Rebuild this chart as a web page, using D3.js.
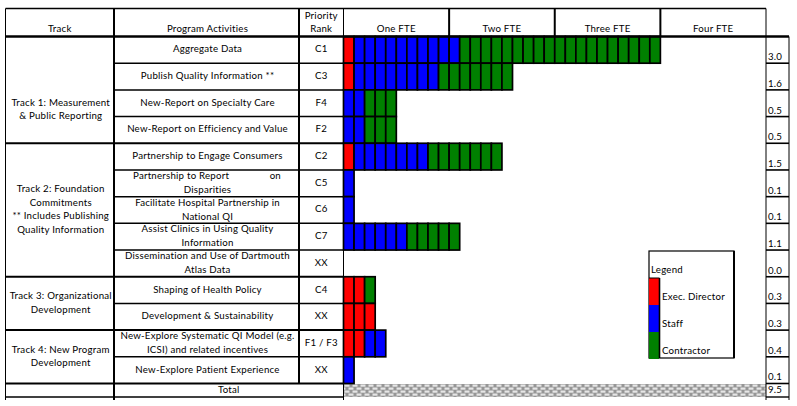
<!DOCTYPE html>
<html>
<head>
<meta charset="utf-8">
<script src="https://cdn.jsdelivr.net/npm/d3@7"></script>
<style>
  html, body { margin: 0; padding: 0; background: #fff; }
  svg { display: block; }
  text { font-family: Lato, "Liberation Sans", sans-serif; fill: #000; letter-spacing: 0.22px; }
</style>
</head>
<body>
<svg id="chart" width="797" height="406"></svg>
<script>
// ---------------- DATA ----------------
const tracks = [
  ["Track 1: Measurement", "& Public Reporting"],
  ["Track 2: Foundation", "Commitments", "** Includes Publishing", "Quality Information"],
  ["Track 3: Organizational", "Development"],
  ["Track 4: New Program", "Development"]
];
const trackRowCounts = [4, 5, 2, 2];
const activities = [
  ["Aggregate Data"],
  ["Publish Quality Information **"],
  ["New-Report on Specialty Care"],
  ["New-Report on Efficiency and Value"],
  ["Partnership to Engage Consumers"],
  ["Partnership to Report", "Disparities"],
  ["Facilitate Hospital Partnership in", "National QI"],
  ["Assist Clinics in Using Quality", "Information"],
  ["Dissemination and Use of Dartmouth", "Atlas Data"],
  ["Shaping of Health Policy"],
  ["Development & Sustainability"],
  ["New-Explore Systematic QI Model (e.g.", "ICSI) and related incentives"],
  ["New-Explore Patient Experience"]
];
const justifiedTail = { 5: "on" }; // word pushed to the right end of a justified first line
const ranks = ["C1", "C3", "F4", "F2", "C2", "C5", "C6", "C7", "XX", "C4", "XX", "F1 / F3", "XX"];
// FTE per role
const execDirector = [0.1, 0.1, 0.0, 0.0, 0.1, 0.0, 0.0, 0.0, 0.0, 0.2, 0.3, 0.2, 0.0];
const staff        = [1.0, 0.8, 0.2, 0.2, 0.7, 0.1, 0.1, 0.6, 0.0, 0.0, 0.0, 0.2, 0.1];
const contractor   = [1.9, 0.7, 0.3, 0.3, 0.7, 0.0, 0.0, 0.5, 0.0, 0.1, 0.0, 0.0, 0.0];
const rowTotals = ["3.0", "1.6", "0.5", "0.5", "1.5", "0.1", "0.1", "1.1", "0.0", "0.3", "0.3", "0.4", "0.1"];
const grandTotal = "9.5";
const fteLabels = ["One FTE", "Two FTE", "Three FTE", "Four FTE"];
const roles = ["Exec. Director", "Staff", "Contractor"];
const roleColors = ["#ff0000", "#0000ff", "#008000"];
const cellSize = 0.1; // each block = 0.1 FTE

// ---------------- LAYOUT ----------------
const svg = d3.select("#chart");
const X0 = 5.5, XTRACK = 114, XRANK = 299, XCHART = 343.5, XVAL2 = 789;
const YTOP = 8.5, YHEAD = 36.5, YROWS_END = 383.5, YTOTAL_END = 397;
const FS = 9.7;

const x = d3.scaleLinear().domain([0, 4]).range([XCHART, 766]);
const y = d3.scaleBand().domain(d3.range(activities.length)).range([YHEAD, YROWS_END]).padding(0);
const color = d3.scaleOrdinal().domain(roles).range(roleColors);

// pattern for total row
const defs = svg.append("defs");
const pat = defs.append("pattern").attr("id", "chk").attr("patternUnits", "userSpaceOnUse")
  .attr("width", 8).attr("height", 6).attr("x", XCHART).attr("y", YROWS_END + 0.5);
pat.append("rect").attr("width", 8).attr("height", 6).attr("fill", "#969696");
pat.append("rect").attr("x", 1).attr("y", 0.5).attr("width", 5).attr("height", 2.2).attr("fill", "#e6e6e6");
pat.append("rect").attr("x", 5).attr("y", 3.5).attr("width", 5).attr("height", 2.2).attr("fill", "#e6e6e6");
pat.append("rect").attr("x", -3).attr("y", 3.5).attr("width", 5).attr("height", 2.2).attr("fill", "#e6e6e6");

svg.append("rect").attr("x", XCHART).attr("y", YROWS_END + 0.5)
  .attr("width", x(4) - XCHART).attr("height", YTOTAL_END - YROWS_END - 0.5).attr("fill", "url(#chk)");

// ---------------- BARS ----------------
const cells = [];
activities.forEach((a, i) => {
  let pos = 0;
  [execDirector, staff, contractor].forEach((arr, r) => {
    const n = Math.round(arr[i] / cellSize);
    for (let k = 0; k < n; k++) {
      cells.push({ row: i, role: roles[r], x0: pos, x1: pos + cellSize });
      pos += cellSize;
    }
  });
});
svg.append("g").selectAll("rect").data(cells).join("rect")
  .attr("x", d => x(d.x0)).attr("y", d => y(d.row))
  .attr("width", d => x(d.x1) - x(d.x0)).attr("height", y.bandwidth())
  .attr("fill", d => color(d.role))
  .attr("stroke", "#000").attr("stroke-width", 1.7);

// ---------------- GRID LINES ----------------
const g = svg.append("g").attr("stroke", "#000").attr("fill", "none");
function line(x1, y1, x2, y2, w) {
  g.append("line").attr("x1", x1).attr("y1", y1).attr("x2", x2).attr("y2", y2).attr("stroke-width", w);
}
line(X0, YTOP, X0, 400, 1);
line(XTRACK, YTOP, XTRACK, 400, 2);
line(XRANK, YTOP, XRANK, YROWS_END, 2);
line(XCHART, YTOP, XCHART, 400, 1);
[1, 2, 3].forEach(v => line(x(v), YTOP, x(v), YHEAD, 2));
line(x(4), YTOP, x(4), 400, 1);
line(XVAL2, YHEAD, XVAL2, 400, 1);
line(X0, YTOP, x(4), YTOP, 1.4);
line(X0, YHEAD, XVAL2, YHEAD, 2.4);
const trackBounds = new Set();
let acc = 0;
trackRowCounts.forEach(c => { acc += c; trackBounds.add(acc); });
for (let i = 1; i <= activities.length; i++) {
  const yy = i === activities.length ? YROWS_END : y(i);
  if (trackBounds.has(i)) line(X0, yy, XCHART, yy, 2);
  else line(XTRACK, yy, XCHART, yy, 1.5);
  line(x(4), yy, XVAL2, yy, 1.6);
}
line(X0, YTOTAL_END, XCHART, YTOTAL_END, 1.4);
line(x(4), YTOTAL_END, XVAL2, YTOTAL_END, 1.4);

// ---------------- TEXT ----------------
const t = svg.append("g").attr("font-size", FS);
function txt(str, tx, ty, anchor) {
  return t.append("text").attr("x", tx).attr("y", ty).attr("text-anchor", anchor || "middle")
    .attr("dominant-baseline", "middle").text(str);
}
txt("Track", (X0 + XTRACK) / 2, 30);
txt("Program Activities", (XTRACK + XRANK) / 2 + 1, 30);
txt("Priority", (XRANK + XCHART) / 2, 17);
txt("Rank", (XRANK + XCHART) / 2, 30);
fteLabels.forEach((l, i) => txt(l, (x(i) + x(i + 1)) / 2, 30));

activities.forEach((lines, i) => {
  const cy = y(i) + y.bandwidth() / 2;
  const cx = (XTRACK + XRANK) / 2 + 1;
  if (lines.length === 1) txt(lines[0], cx, cy);
  else if (justifiedTail[i]) {
    txt(lines[0], XTRACK + 19, y(i) + 6.5, "start");
    txt(justifiedTail[i], XRANK - 18, y(i) + 6.5, "end");
    txt(lines[1], cx, y(i) + 20.5);
  } else {
    txt(lines[0], cx, y(i) + 6.5);
    txt(lines[1], cx, y(i) + 20.5);
  }
  txt(ranks[i], (XRANK + XCHART) / 2, cy);
  txt(rowTotals[i], 768, y(i) + y.bandwidth() - 5.5, "start");
});
txt("Total", (XTRACK + XCHART) / 2, (YROWS_END + YTOTAL_END) / 2 + 0.5);
txt(grandTotal, 768, (YROWS_END + YTOTAL_END) / 2 + 0.5, "start");

let start = 0;
tracks.forEach((lines, k) => {
  const top = y(start);
  const end = start + trackRowCounts[k];
  const bottom = end === activities.length ? YROWS_END : y(end);
  const lh = 13.5;
  let cy = (top + bottom) / 2;
  if (k === 0) cy += 20;
  const first = cy - (lines.length - 1) * lh / 2;
  lines.forEach((l, j) => txt(l, (X0 + XTRACK) / 2 + 1, first + j * lh));
  start = end;
});

// ---------------- LEGEND ----------------
const L = svg.append("g");
const lx = 649, ly = 251, lw = 85, lh2 = 107;
L.append("rect").attr("x", lx).attr("y", ly).attr("width", lw).attr("height", lh2)
  .attr("fill", "#fff").attr("stroke", "#000").attr("stroke-width", 1.2);
L.append("line").attr("x1", lx + lw).attr("y1", ly).attr("x2", lx + lw).attr("y2", ly + lh2)
  .attr("stroke", "#000").attr("stroke-width", 2);
L.append("text").attr("x", lx + 2).attr("y", ly + 20).attr("font-size", FS)
  .attr("dominant-baseline", "middle").text("Legend");
const sw = 27;
roles.forEach((r, i) => {
  const sy = ly + 27 + i * sw;
  L.append("rect").attr("x", lx).attr("y", sy).attr("width", 10).attr("height", sw)
    .attr("fill", color(r));
  L.append("text").attr("x", lx + 13).attr("y", sy + 20).attr("font-size", FS)
    .attr("dominant-baseline", "middle").text(r);
});
L.append("line").attr("x1", lx + 10.5).attr("y1", ly + 27).attr("x2", lx + 10.5).attr("y2", ly + lh2)
  .attr("stroke", "#000").attr("stroke-width", 1.6);
L.append("line").attr("x1", lx).attr("y1", ly + 27).attr("x2", lx + 10.5).attr("y2", ly + 27)
  .attr("stroke", "#000").attr("stroke-width", 1);
</script>
</body>
</html>
